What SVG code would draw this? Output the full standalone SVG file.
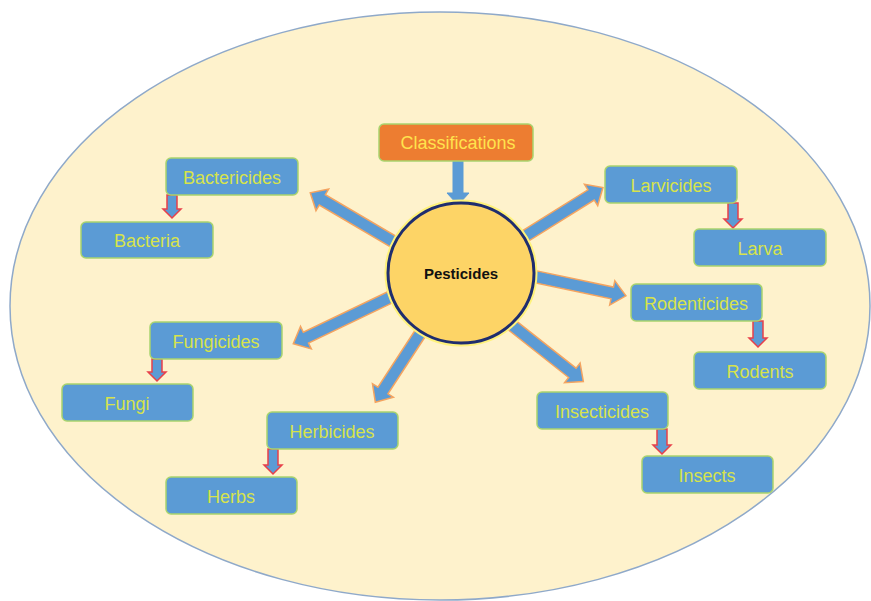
<svg xmlns="http://www.w3.org/2000/svg" width="871" height="601" viewBox="0 0 871 601">
<style>
.box{fill:#5B9BD5;stroke:#A9D46E;stroke-width:1.5}
.lbl{font-family:"Liberation Sans",Arial,sans-serif;font-size:18px;fill:#D7E34B;text-anchor:middle}
.big{fill:#5B9BD5;stroke:#F4A460;stroke-width:1.5;stroke-linejoin:miter}
.small{fill:#5B9BD5;stroke:#E8404A;stroke-width:1.5}
</style>
<rect width="871" height="601" fill="#ffffff"/>
<ellipse id="background" cx="440" cy="306" rx="430" ry="294" fill="#FEF2CC" stroke="#8FA9C9" stroke-width="1.5"/>
<g id="connectors">
  <polygon points="453,161 463,161 463,193 469,193 458,205 447,193 453,193" fill="#5B9BD5" stroke="#5B9BD5" stroke-width="1"/>
  <g transform="translate(399,245) rotate(210.5)"><polygon class="big" points="0,-6 89,-6 89,-12.5 103,0 89,12.5 89,6 0,6"/></g>
  <g transform="translate(519,240) rotate(-32)"><polygon class="big" points="0,-6 85,-6 85,-12.5 99,0 85,12.5 85,6 0,6"/></g>
  <g transform="translate(532,276) rotate(11.9)"><polygon class="big" points="0,-6 82,-6 82,-12.5 96,0 82,12.5 82,6 0,6"/></g>
  <g transform="translate(397,294) rotate(154.4)"><polygon class="big" points="0,-6 101,-6 101,-12.5 115,0 101,12.5 101,6 0,6"/></g>
  <g transform="translate(425,326) rotate(123.1)"><polygon class="big" points="0,-6 77,-6 77,-12.5 91,0 77,12.5 77,6 0,6"/></g>
  <g transform="translate(508,322) rotate(38.3)"><polygon class="big" points="0,-6 82,-6 82,-12.5 96,0 82,12.5 82,6 0,6"/></g>
  <polygon class="small" points="167,195 177,195 177,209 181,209 172,218 163,209 167,209"/>
  <polygon class="small" points="728,203 738,203 738,219 742,219 733,228 724,219 728,219"/>
  <polygon class="small" points="753,321 763,321 763,338 767,338 758,347 749,338 753,338"/>
  <polygon class="small" points="152,359 162,359 162,372 166,372 157,381 148,372 152,372"/>
  <polygon class="small" points="268,449 278,449 278,465 282,465 273,474 264,465 268,465"/>
  <polygon class="small" points="657,429 667,429 667,445 671,445 662,454 653,445 657,445"/>
</g>
<g id="classifications">
  <rect x="379" y="124" width="154" height="37" rx="5" fill="#ED7D31" stroke="#A9D46E" stroke-width="1.5"/>
  <text x="458" y="149" class="lbl" style="fill:#FFE34D">Classifications</text>
</g>
<g id="pesticides">
  <ellipse cx="461" cy="273" rx="73" ry="70" fill="#FDD466" stroke="#FFF27A" stroke-width="7"/>
  <ellipse cx="461" cy="273" rx="73" ry="70" fill="#FDD466" stroke="#1F2D6E" stroke-width="3"/>
  <text x="461" y="279" style="font-family:'Liberation Sans',Arial,sans-serif;font-size:15px;font-weight:bold;fill:#111;text-anchor:middle">Pesticides</text>
</g>
<g id="bactericides"><rect class="box" x="166" y="158" width="132" height="37" rx="5"/><text class="lbl" x="232" y="184">Bactericides</text></g>
<g id="bacteria"><rect class="box" x="81" y="222" width="132" height="36" rx="5"/><text class="lbl" x="147" y="247">Bacteria</text></g>
<g id="larvicides"><rect class="box" x="605" y="166" width="132" height="37" rx="5"/><text class="lbl" x="671" y="192">Larvicides</text></g>
<g id="larva"><rect class="box" x="694" y="229" width="132" height="37" rx="5"/><text class="lbl" x="760" y="255">Larva</text></g>
<g id="rodenticides"><rect class="box" x="631" y="284" width="131" height="37" rx="5"/><text class="lbl" x="696" y="310">Rodenticides</text></g>
<g id="rodents"><rect class="box" x="694" y="352" width="132" height="37" rx="5"/><text class="lbl" x="760" y="378">Rodents</text></g>
<g id="fungicides"><rect class="box" x="150" y="322" width="132" height="37" rx="5"/><text class="lbl" x="216" y="348">Fungicides</text></g>
<g id="fungi"><rect class="box" x="62" y="384" width="131" height="37" rx="5"/><text class="lbl" x="127" y="410">Fungi</text></g>
<g id="herbicides"><rect class="box" x="267" y="412" width="131" height="37" rx="5"/><text class="lbl" x="332" y="438">Herbicides</text></g>
<g id="herbs"><rect class="box" x="166" y="477" width="131" height="37" rx="5"/><text class="lbl" x="231" y="503">Herbs</text></g>
<g id="insecticides"><rect class="box" x="537" y="392" width="131" height="37" rx="5"/><text class="lbl" x="602" y="418">Insecticides</text></g>
<g id="insects"><rect class="box" x="642" y="456" width="131" height="37" rx="5"/><text class="lbl" x="707" y="482">Insects</text></g>
</svg>
